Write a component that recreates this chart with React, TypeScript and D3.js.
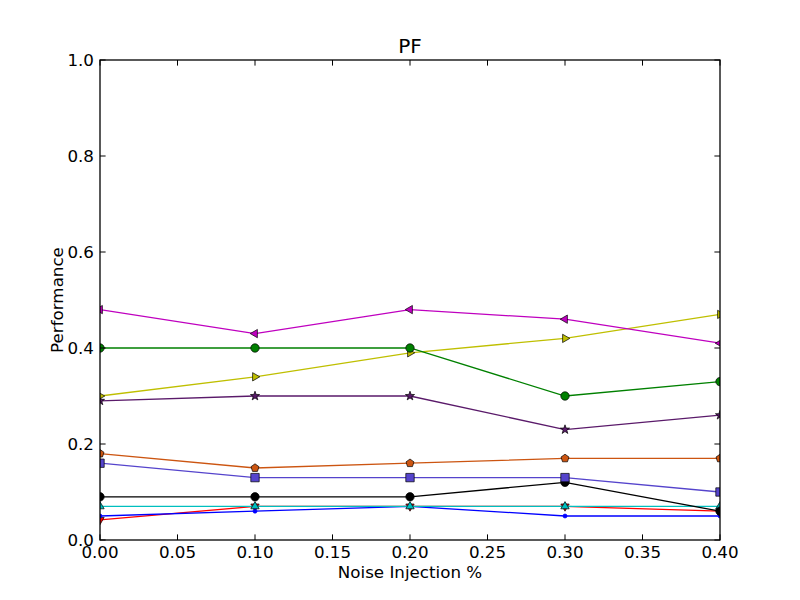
import React from 'react'
import * as d3 from 'd3'

// noise levels on the x axis
const noiseLevels = [0.0, 0.1, 0.2, 0.3, 0.4]

const redValues = [0.042, 0.07, 0.07, 0.07, 0.06]
const blueValues = [0.05, 0.06, 0.07, 0.05, 0.05]
const cyanValues = [0.07, 0.07, 0.07, 0.07, 0.07]
const blackValues = [0.09, 0.09, 0.09, 0.12, 0.06]
const squareValues = [0.16, 0.13, 0.13, 0.13, 0.10]
const pentagonValues = [0.18, 0.15, 0.16, 0.17, 0.17]
const starValues = [0.29, 0.30, 0.30, 0.23, 0.26]
const yellowValues = [0.30, 0.34, 0.39, 0.42, 0.47]
const greenValues = [0.40, 0.40, 0.40, 0.30, 0.33]
const magentaValues = [0.48, 0.43, 0.48, 0.46, 0.41]

const xTicks = [0, 0.05, 0.1, 0.15, 0.2, 0.25, 0.3, 0.35, 0.4]
const yTicks = [0, 0.2, 0.4, 0.6, 0.8, 1.0]

type Marker = 'v' | '^' | '<' | '>' | 'o' | '.' | 's' | 'p' | '*'

const series: { values: number[]; color: string; marker: Marker }[] = [
    { values: redValues, color: '#ff0000', marker: 'v' },
    { values: blueValues, color: '#0000ff', marker: '.' },
    { values: cyanValues, color: '#00bfbf', marker: '^' },
    { values: blackValues, color: '#000000', marker: 'o' },
    { values: squareValues, color: '#5544cc', marker: 's' },
    { values: pentagonValues, color: '#cc5511', marker: 'p' },
    { values: starValues, color: '#5a1a6a', marker: '*' },
    { values: yellowValues, color: '#bfbf00', marker: '>' },
    { values: greenValues, color: '#008000', marker: 'o' },
    { values: magentaValues, color: '#bf00bf', marker: '<' },
]

const width = 800
const height = 600
const margin = { top: 60, right: 80, bottom: 60, left: 100 }
const font = 'DejaVu Sans, sans-serif'
const fontSize = 16.7

// marker outline around 0,0, roughly matplotlib's size 6
const markerPath = (m: Marker): string => {
    const r = 4.2
    const poly = (n: number, rot: number, rad: number) =>
        d3.range(n).map(i => {
            const a = rot + (i * 2 * Math.PI) / n
            return [rad * Math.cos(a), rad * Math.sin(a)]
        })
    const toPath = (pts: number[][]) => 'M' + pts.map(p => p.join(',')).join('L') + 'Z'
    switch (m) {
        case 'o':
            return d3.symbol(d3.symbolCircle, Math.PI * r * r)() as string
        case '.':
            return d3.symbol(d3.symbolCircle, Math.PI * 2 * 2)() as string
        case 's':
            return toPath([[-r, -r], [r, -r], [r, r], [-r, r]])
        case '^':
            return toPath(poly(3, -Math.PI / 2, r + 0.6))
        case 'v':
            return toPath(poly(3, Math.PI / 2, r + 0.6))
        case '<':
            return toPath(poly(3, Math.PI, r + 0.6))
        case '>':
            return toPath(poly(3, 0, r + 0.6))
        case 'p':
            return toPath(poly(5, -Math.PI / 2, r))
        case '*': {
            const pts: number[][] = []
            for (let i = 0; i < 10; i++) {
                const a = -Math.PI / 2 + (i * Math.PI) / 5
                const rad = i % 2 === 0 ? r + 0.6 : (r + 0.6) * 0.4
                pts.push([rad * Math.cos(a), rad * Math.sin(a)])
            }
            return toPath(pts)
        }
    }
    return ''
}

export default function App() {
    const innerW = width - margin.left - margin.right
    const innerH = height - margin.top - margin.bottom

    const x = d3.scaleLinear().domain([0, 0.4]).range([0, innerW])
    const y = d3.scaleLinear().domain([0, 1]).range([innerH, 0])

    const line = d3.line<number>()
        .x((_, i) => x(noiseLevels[i]))
        .y(d => y(d))

    const tickLen = 5.6

    return (
        <svg width={width} height={height} style={{ position: 'absolute', left: 0, top: 0, background: '#fff' }}>
            <defs>
                <clipPath id="plot-clip">
                    <rect x={0} y={0} width={innerW} height={innerH} />
                </clipPath>
            </defs>
            <rect x={0} y={0} width={width} height={height} fill="#fff" />
            <g transform={`translate(${margin.left},${margin.top})`}>
                <g clipPath="url(#plot-clip)">
                    {series.map((s, si) => (
                        <g key={si}>
                            <path d={line(s.values) ?? ''} fill="none" stroke={s.color} strokeWidth={1.3} />
                            {s.values.map((v, i) => (
                                <path
                                    key={i}
                                    d={markerPath(s.marker)}
                                    transform={`translate(${x(noiseLevels[i])},${y(v)})`}
                                    fill={s.color}
                                    stroke={s.marker === '.' ? s.color : '#000'}
                                    strokeWidth={0.7}
                                />
                            ))}
                        </g>
                    ))}
                </g>

                {/* frame */}
                <rect x={0} y={0} width={innerW} height={innerH} fill="none" stroke="#000" strokeWidth={1.3} />

                {/* x ticks */}
                {xTicks.map(t => (
                    <g key={t} transform={`translate(${x(t)},0)`}>
                        <line y1={innerH} y2={innerH - tickLen} stroke="#000" />
                        <line y1={0} y2={tickLen} stroke="#000" />
                        <text y={innerH + 18} textAnchor="middle" fontFamily={font} fontSize={fontSize} fill="#000">
                            {t.toFixed(2)}
                        </text>
                    </g>
                ))}

                {/* y ticks */}
                {yTicks.map(t => (
                    <g key={t} transform={`translate(0,${y(t)})`}>
                        <line x1={0} x2={tickLen} stroke="#000" />
                        <line x1={innerW} x2={innerW - tickLen} stroke="#000" />
                        <text x={-6} dy="0.36em" textAnchor="end" fontFamily={font} fontSize={fontSize} fill="#000">
                            {t.toFixed(1)}
                        </text>
                    </g>
                ))}

                <text x={innerW / 2} y={innerH + 38} textAnchor="middle" fontFamily={font} fontSize={fontSize} fill="#000">
                    Noise Injection %
                </text>
                <text
                    transform={`translate(${-37},${innerH / 2}) rotate(-90)`}
                    textAnchor="middle"
                    fontFamily={font}
                    fontSize={fontSize}
                    fill="#000"
                >
                    Performance
                </text>
                <text x={innerW / 2} y={-7} textAnchor="middle" fontFamily={font} fontSize={20} fill="#000">
                    PF
                </text>
            </g>
        </svg>
    )
}
